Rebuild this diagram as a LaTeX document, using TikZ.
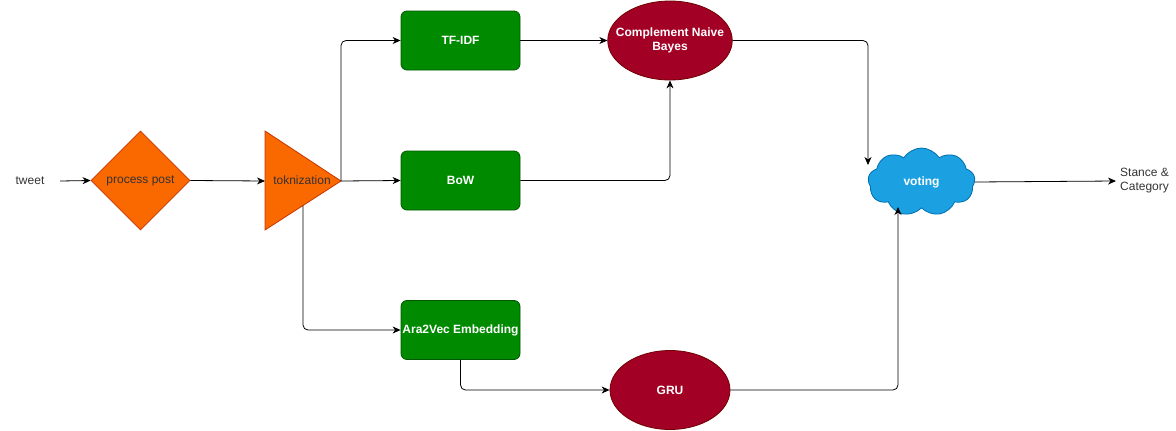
\documentclass[tikz,border=0pt]{standalone}
\usepackage{fontspec}
\setmainfont{Liberation Sans}
\usetikzlibrary{shapes.geometric,shapes.symbols,arrows.meta,calc}
\definecolor{orfill}{HTML}{FA6800}
\definecolor{orline}{HTML}{C73500}
\definecolor{grfill}{HTML}{008A00}
\definecolor{grline}{HTML}{005700}
\definecolor{rdfill}{HTML}{A20025}
\definecolor{rdline}{HTML}{6F0000}
\definecolor{blfill}{HTML}{1BA1E2}
\definecolor{blline}{HTML}{006EAF}
\definecolor{txt}{HTML}{333333}
\tikzset{
  every node/.style={font=\fontsize{12}{14}\selectfont},
  conn/.style={draw=black, line width=0.8pt, rounded corners=5pt,
    -{Stealth[length=8pt,width=7pt,inset=2.5pt]}},
  greenbox/.style={rectangle, rounded corners=6pt, draw=grline, fill=grfill,
    text=white, font=\fontsize{12}{14}\selectfont\bfseries,
    minimum width=119pt, minimum height=59pt, inner sep=0pt, line width=0.8pt},
  redell/.style={ellipse, draw=rdline, fill=rdfill, text=white,
    font=\fontsize{12}{14}\selectfont\bfseries, align=center,
    minimum width=120pt, minimum height=79pt, inner ysep=0pt, inner xsep=-10pt, line width=0.8pt},
  plain/.style={text=txt, inner sep=0pt}
}
\begin{document}
\begin{tikzpicture}[x=1pt,y=-1pt]
\useasboundingbox (0,0) rectangle (1176,431);
% nodes
\node[plain, minimum width=60pt] (tweet) at (30,181) {tweet};
\node[diamond, aspect=1, draw=orline, fill=orfill, minimum width=99pt,
  minimum height=99pt, inner sep=0pt, text=txt, line width=0.8pt] (proc) at (140.5,180.5) {process post};
\coordinate (tl) at (265,131);
\coordinate (tb) at (265,230);
\coordinate (tip) at (341,181);
\coordinate (tokbot) at (303,205.5);
\coordinate (tokin) at (265,181);
\fill[orfill, draw=orline, line width=0.8pt] (tl) -- (tip) -- (tb) -- cycle;
\node[plain, text=txt] (tok) at (302,180) {toknization};
\node[greenbox] (tfidf) at (460.5,40.5) {TF-IDF};
\node[greenbox] (bow) at (460.5,180.5) {BoW};
\node[greenbox] (ara) at (460.5,330) {Ara2Vec Embedding};
\node[redell] (cnb) at (670,40.5) {Complement Naive\\Bayes};
\node[redell] (gru) at (670,390) {GRU};
\node[cloud, cloud puffs=9, cloud puff arc=115, aspect=1.6, draw=blline, fill=blfill,
  text=white, font=\fontsize{12}{14}\selectfont\bfseries, minimum width=107pt,
  minimum height=68pt, inner sep=0pt, line width=0.8pt] (voting) at (921.5,182) {voting};
\node[plain, anchor=west, align=left, text=txt] (out) at (1120,181) {Stance \&\\Category};
% connectors
\draw[conn] (tweet.east) -- (proc.west);
\draw[conn] (proc.east) -- (tokin);
\draw[conn] (tip) -- (bow.west);
\draw[conn] (tip) |- (tfidf.west);
\draw[conn] (tokbot) |- (ara.west);
\draw[conn] (tfidf.east) -- (cnb.west);
\draw[conn] (bow.east) -| (cnb.south);
\draw[conn] (ara.south) |- (gru.west);
\draw[conn] (cnb.east) -| ($(voting.center)+(-53.5,-17)$);
\draw[conn] (gru.east) -| ($(voting.center)+(-23.5,25)$);
\draw[conn] (voting.east) -- ([xshift=-4pt]out.west);
\end{tikzpicture}
\end{document}
